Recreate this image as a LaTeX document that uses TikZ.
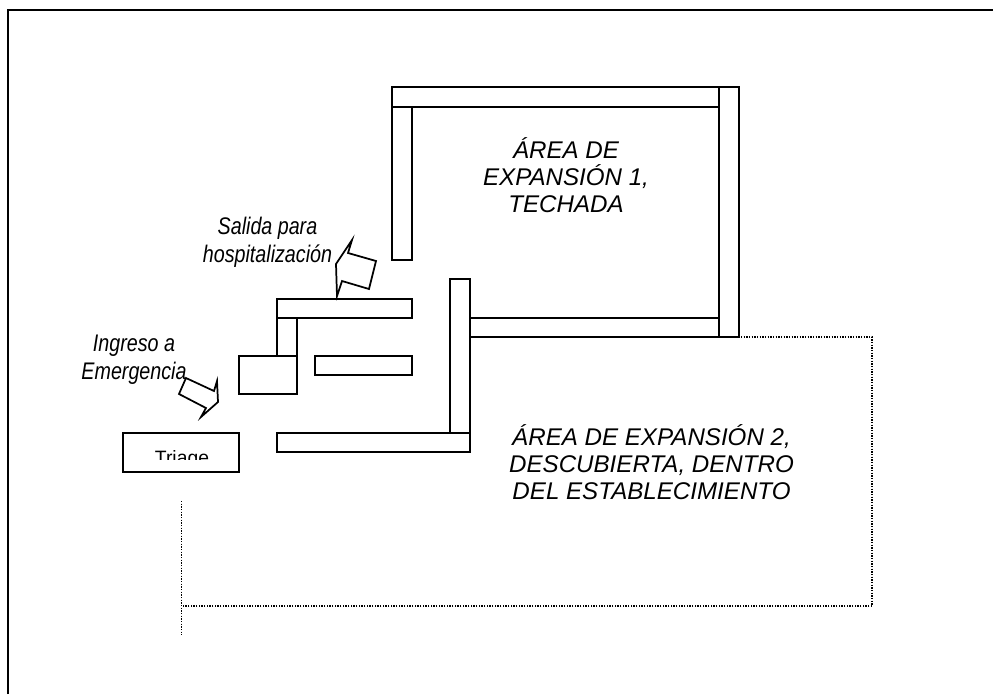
\documentclass[tikz,border=0pt]{standalone}
\usepackage{fontspec}
\setmainfont{Liberation Sans}
\newfontfamily\narrowfont[FakeStretch=0.82]{Liberation Sans}
\begin{document}
\begin{tikzpicture}[x=0.75pt,y=-0.75pt,
  wall/.style={draw=black,line width=1.3pt,fill=white},
  frameline/.style={draw=black,line width=1.5pt},
  dotline/.style={draw=black,line width=1pt,dash pattern=on 1pt off 1pt},
  flow/.style={draw=black,line width=1.3pt,fill=white,line join=miter},
  bigtext/.style={font=\fontsize{18.1}{20.25}\selectfont\itshape,align=center,inner sep=0pt,text=black},
  smalltext/.style={font=\fontsize{18}{21.4}\narrowfont\itshape,align=center,inner sep=0pt,text=black}]
\useasboundingbox (0,0) rectangle (993,694);
% frame
\draw[frameline] (8.3,694) -- (8.3,10.3) -- (993,10.3);
% dotted boundary
\coordinate (d1) at (741,337);
\coordinate (d2) at (872,337);
\coordinate (d3) at (872,606);
\coordinate (d4) at (181.5,606);
\coordinate (d5) at (181.5,501);
\coordinate (d6) at (181.5,635);
\draw[dotline] (d1) -- (d2) -- (d3) -- (d4);
\draw[dotline] (d5) -- (d6);
% walls
\draw[wall] (392,107) rectangle (412,260);
\draw[wall] (392,87) rectangle (719,107);
\draw[wall] (470,318) rectangle (719,337);
\draw[wall] (719,87) rectangle (739,337);
\draw[wall] (450,279) rectangle (470,433);
\draw[wall] (277,433) rectangle (470,452);
\draw[wall] (277,299) rectangle (412,318);
\draw[wall] (277,318) rectangle (297,356);
\draw[wall] (239,356) rectangle (297,394);
\draw[wall] (315,356) rectangle (412,375);
% triage
\draw[wall] (123,433) rectangle (239,472);
\begin{scope}
\clip (123,433) rectangle (239,459);
\node[font=\fontsize{14.5}{16}\selectfont,inner sep=0pt,anchor=base] (triage) at (182,464) {Triage};
\end{scope}
% arrows
\draw[flow] (352,240) -- (336,264) -- (337,296) -- (342,281) -- (369,289) -- (376,261) -- (348,253) -- cycle;
\draw[flow] (186,378) -- (214,391) -- (217,381) -- (218,402) -- (201,417) -- (206,408) -- (179,394) -- cycle;
% labels
\node[bigtext] (a1) at (566,175.5) {ÁREA DE\\EXPANSIÓN 1,\\TECHADA};
\node[bigtext] (a2) at (651.5,462.5) {ÁREA DE EXPANSIÓN 2,\\DESCUBIERTA, DENTRO\\DEL ESTABLECIMIENTO};
\node[smalltext] (s) at (267.5,242.5) {Salida para\\hospitalización};
\node[smalltext] (i) at (134,359.5) {Ingreso a\\Emergencia};
\end{tikzpicture}
\end{document}
